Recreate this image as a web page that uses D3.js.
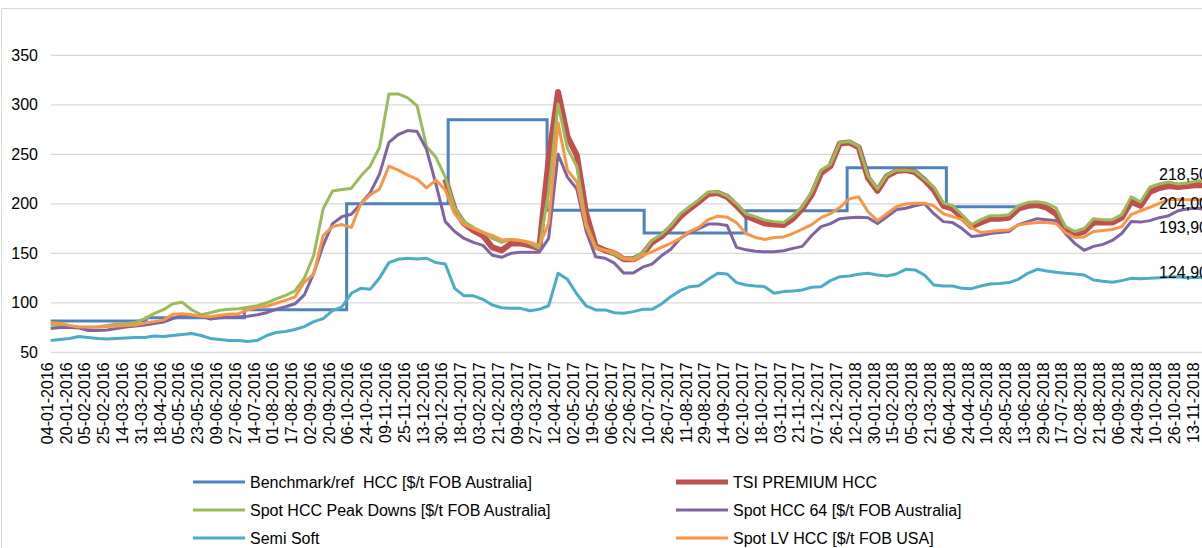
<!DOCTYPE html>
<html>
<head>
<meta charset="utf-8">
<script src="https://cdn.jsdelivr.net/npm/d3@7"></script>
<style>
  body { margin: 0; background: #fff; }
  #chart { width: 1202px; height: 548px; }
  text { font-family: "Liberation Sans", Arial, sans-serif; fill: #000; }
</style>
</head>
<body>
<div id="chart"></div>
<script>
// category labels (every 12th trading day)
const tickLabels = [
  '04-01-2016','20-01-2016','05-02-2016','25-02-2016','14-03-2016','31-03-2016','18-04-2016','05-05-2016',
  '23-05-2016','09-06-2016','27-06-2016','14-07-2016','01-08-2016','17-08-2016','02-09-2016','20-09-2016',
  '06-10-2016','24-10-2016','09-11-2016','25-11-2016','13-12-2016','30-12-2016','18-01-2017','03-02-2017',
  '21-02-2017','09-03-2017','27-03-2017','12-04-2017','02-05-2017','19-05-2017','06-06-2017','22-06-2017',
  '10-07-2017','26-07-2017','11-08-2017','29-08-2017','14-09-2017','02-10-2017','18-10-2017','03-11-2017',
  '21-11-2017','07-12-2017','26-12-2017','12-01-2018','30-01-2018','15-02-2018','05-03-2018','21-03-2018',
  '06-04-2018','24-04-2018','10-05-2018','28-05-2018','13-06-2018','29-06-2018','17-07-2018','02-08-2018',
  '21-08-2018','06-09-2018','24-09-2018','10-10-2018','26-10-2018','13-11-2018'
]
const yTicks = [50, 100, 150, 200, 250, 300, 350]

const seriesNames = [
  'Benchmark/ref  HCC [$/t FOB Australia]',
  'TSI PREMIUM HCC',
  'Spot HCC Peak Downs [$/t FOB Australia]',
  'Spot HCC 64 [$/t FOB Australia]',
  'Semi Soft',
  'Spot LV HCC [$/t FOB USA]'
]
const colors = ['#4F81BD', '#C0504D', '#9BBB59', '#8064A2', '#4BACC6', '#F79646']

// quarterly benchmark: start date of each quarter and its price
const benchStarts = ['04-01-2016','01-04-2016','01-07-2016','03-10-2016','03-01-2017',
  '03-04-2017','03-07-2017','02-10-2017','02-01-2018','02-04-2018']
const benchValues = [81.5, 85, 93, 200, 285, 193.5, 170.5, 193, 236.5, 197]
const benchEnd = '29-06-2018'

// daily series, read twice per category label (every 6 trading days)
const peakDowns = [
  77.5, 77, 76, 75.3, 75, 75.5, 77, 78.5, 79, 80, 84, 89, 93, 99, 100.5, 93, 88, 90, 92.5, 93.5, 94, 95.5, 97, 100, 104, 107.5, 112, 125, 148, 195, 213,
  214.5, 215.5, 228, 238, 257, 311, 311, 307, 299, 258, 247, 227, 196, 182, 176, 171.5, 165, 161, 164, 163, 160, 155, 212, 301, 256, 238, 180, 156.5, 153, 149, 144,
  145, 150.5, 163, 169, 178, 190, 197, 204, 212, 212, 208, 200, 190, 187, 183.5, 182, 181, 188, 197, 212, 234, 240, 262, 263, 258, 228, 215, 229, 234, 234, 233,
  225, 217, 201, 198, 189, 179, 184, 188, 188, 189, 198, 201.5, 202, 200.5, 196, 177, 172, 175, 185, 184, 184, 189, 207, 202, 217, 220, 222, 220, 221, 223, 223
]
const hcc64 = [
  74, 75, 75, 74.5, 72, 72, 72.5, 74, 75.5, 76.5, 77.5, 79, 80.5, 84, 87.5, 87.5, 86.5, 83.5, 85, 85.5, 86, 86.5, 88, 90, 93.5, 96, 99, 108, 130, 158, 180,
  187, 189.5, 200, 211, 230, 262, 270, 274, 273, 255, 220, 182, 172, 165, 161, 158, 148, 146, 150, 151, 151, 151, 165, 250, 227, 215, 172, 146.5, 145, 140, 130,
  130, 136, 139, 147.5, 154, 165, 171, 175, 179.5, 179.5, 178, 156, 153.5, 152, 151.5, 151.5, 152.5, 155, 157, 168, 177, 180, 185, 186, 186.5, 186, 180, 187, 194, 195.5, 198,
  200, 190, 182, 181, 175, 167, 168, 170, 171, 172, 179, 182, 185, 184, 183, 170, 160, 153, 157, 159, 163, 170, 182, 181.5, 183, 186, 188, 193, 195, 195.5, 194
]
const semiSoft = [
  62, 63, 64, 66, 65, 64, 63.5, 64, 64.5, 65, 65, 66.5, 66, 67, 68, 69, 67, 64, 63, 62, 62, 61, 62, 67, 70, 71, 73, 76, 81, 84, 92,
  96, 109.6, 114.6, 113.6, 125, 140.6, 144, 145, 144.3, 145, 140.6, 139.2, 114.6, 107, 107, 103.5, 97.8, 95, 94.4, 94.4, 92, 93.4, 97, 129.8, 123.7, 108.9, 96.8, 92.8, 92.8, 90, 89.4,
  91.1, 93.4, 93.4, 98.8, 106.2, 112.3, 116.3, 117.3, 123.7, 129.8, 129.1, 120.4, 118, 117, 116.3, 109.6, 111.3, 112, 113, 115.7, 116.3, 122.4, 126.4, 127.1, 128.8, 129.8, 128.1, 127.1, 129.1, 133.8, 133.2,
  128.1, 118, 117, 117, 114.6, 114.3, 117, 119, 119.4, 120.4, 123.7, 129.8, 133.8, 132.2, 130.8, 129.8, 129.1, 128.1, 123, 121.7, 120.7, 122.4, 124.7, 124.4, 124.7, 125.4, 126, 126.4, 125.4, 125.7, 124.9
]
const lvUsa = [
  80, 79, 77, 75.5, 75.5, 75.5, 76, 76.5, 77, 77.5, 79.5, 81, 82.5, 88.5, 89, 88, 86.5, 86, 87.5, 88.5, 89, 93, 95.5, 96.5, 99.5, 102.5, 106, 121, 129, 168, 177,
  179, 176, 200, 209, 215, 238, 234, 229, 225, 216, 224, 214, 190, 179, 175, 171, 168, 163.5, 164, 163, 161.3, 158, 180, 282, 234, 222, 177, 155, 153, 151, 145,
  143, 148, 151.5, 156, 160, 165, 172, 176.5, 184, 187.5, 186.5, 181, 170, 166, 164, 166, 166.5, 170, 174.5, 179, 186, 190, 196.5, 205, 207, 192, 183, 190, 197, 199.8, 200.5,
  200.5, 198, 190, 187, 184, 176, 171, 172, 173, 173.5, 178.6, 180, 181, 181, 180, 171, 166, 166.5, 172, 173, 174, 177, 189, 193, 196.5, 200.5, 204, 204.5, 204, 204, 204
]
// TSI starts at category 21 (30-12-2016)
const tsiFrom = 21
const tsi = [
  225, 194, 180, 173, 168, 156, 153, 160, 160, 158, 155, 245, 313, 268, 249, 190, 157, 153, 150, 144,
  144, 149, 161, 167, 176, 187, 195, 202, 210, 211, 207, 198, 188, 184, 180, 179, 178.5, 185, 195, 209, 231, 238, 261, 262, 257, 226, 213, 228, 233, 234, 232,
  224, 214, 198, 195, 186, 177, 181, 185, 185, 186, 195, 198, 199, 196, 190, 174, 169, 172, 181, 181, 181, 186, 202, 198, 212, 216, 218, 217, 218, 219, 218.5
]

// last values shown at the right edge
const lastValues = [218.5, 204.0, 193.9, 124.9]

// ---- drawing ----
const width = 1202, height = 548
const plot = { left: 51, right: 1202, top: 55.3, bottom: 352.3 }
const font = '"Liberation Sans", Arial, sans-serif'

const svg = d3.select('#chart').append('svg')
  .attr('width', width).attr('height', height)

// chart area border (cropped)
svg.append('rect')
  .attr('x', 1.5).attr('y', 8.5)
  .attr('width', width + 20).attr('height', height + 20)
  .attr('fill', 'none').attr('stroke', '#d9d9d9')

const x = d3.scaleLinear().domain([0, tickLabels.length - 1]).range([50.7, 1196.9])
const y = d3.scaleLinear().domain([50, 350]).range([plot.bottom, plot.top])

// trading-day position of a date between two labelled categories
const parse = d3.timeParse('%d-%m-%Y')
const tickDates = tickLabels.map(parse)
const isWeekday = d => d.getDay() % 6 !== 0
const weekdaysAfter = (a, b) => d3.timeDays(d3.timeDay.offset(a, 1), d3.timeDay.offset(b, 1)).filter(isWeekday).length
function dateToPos(d) {
  const i = d3.bisectRight(tickDates, d) - 1
  if (i >= tickDates.length - 1) return tickDates.length - 1
  return i + weekdaysAfter(tickDates[i], d) / weekdaysAfter(tickDates[i], tickDates[i + 1])
}

// gridlines
svg.append('g').selectAll('line')
  .data(yTicks)
  .join('line')
  .attr('x1', plot.left).attr('x2', plot.right)
  .attr('y1', d => y(d)).attr('y2', d => y(d))
  .attr('stroke', '#d9d9d9')
  .attr('stroke-width', 1.3)

// y axis
svg.append('g')
  .attr('transform', `translate(${plot.left},0)`)
  .call(d3.axisLeft(y).tickValues(yTicks).tickSize(0).tickPadding(13))
  .attr('font-size', 16).attr('font-family', font)
  .call(g => g.select('.domain').remove())

// x axis
svg.append('g')
  .attr('transform', `translate(0,${plot.bottom})`)
  .call(d3.axisBottom(x)
    .tickValues(d3.range(tickLabels.length))
    .tickFormat(i => tickLabels[i])
    .tickSize(0))
  .attr('font-size', 16).attr('font-family', font)
  .call(g => g.select('.domain').remove())
  .selectAll('text')
  .attr('transform', 'rotate(-90)')
  .attr('text-anchor', 'end')
  .attr('x', -10)
  .attr('y', -4)
  .attr('dy', '0.35em')

// benchmark steps
const benchPts = benchStarts.map((s, i) => [dateToPos(parse(s)), benchValues[i]])
benchPts.push([dateToPos(parse(benchEnd)), benchValues[benchValues.length - 1]])

svg.append('path')
  .datum(benchPts)
  .attr('fill', 'none')
  .attr('stroke', colors[0])
  .attr('stroke-width', 3)
  .attr('d', d3.line().curve(d3.curveStepAfter).x(d => x(d[0])).y(d => y(d[1])))

// the other series
const lineGen = from => d3.line()
  .x((d, i) => x(from + i / 2))
  .y(d => y(d))

const series = [
  { values: tsi, from: tsiFrom, color: colors[1], w: 6 },
  { values: peakDowns, from: 0, color: colors[2], w: 3 },
  { values: hcc64, from: 0, color: colors[3], w: 3 },
  { values: semiSoft, from: 0, color: colors[4], w: 3 },
  { values: lvUsa, from: 0, color: colors[5], w: 3 }
]

svg.append('g').selectAll('path')
  .data(series)
  .join('path')
  .attr('fill', 'none')
  .attr('stroke', d => d.color)
  .attr('stroke-width', d => d.w)
  .attr('stroke-linejoin', 'round')
  .attr('d', d => lineGen(d.from)(d.values))

// end value labels
const fmt = d3.formatLocale({ decimal: ',', thousands: '.', grouping: [3], currency: ['', ''] }).format('.2f')
const labelShift = [-5, 9, 23, 0]
svg.append('g').selectAll('text')
  .data(lastValues)
  .join('text')
  .attr('x', 1159)
  .attr('y', (d, i) => y(d) + labelShift[i])
  .attr('font-size', 16)
  .text(d => fmt(d))

// legend
const legend = svg.append('g')
  .selectAll('g')
  .data(seriesNames)
  .join('g')
  .attr('transform', (d, i) => `translate(${i % 2 ? 676 : 193},${482 + Math.floor(i / 2) * 28})`)

legend.append('line')
  .attr('x1', 0).attr('x2', 52)
  .attr('stroke', (d, i) => colors[i])
  .attr('stroke-width', (d, i) => i === 1 ? 5 : 3)

legend.append('text')
  .attr('x', 57)
  .attr('dy', '0.35em')
  .attr('font-size', 16)
  .style('white-space', 'pre')
  .text(d => d)
</script>
</body>
</html>
